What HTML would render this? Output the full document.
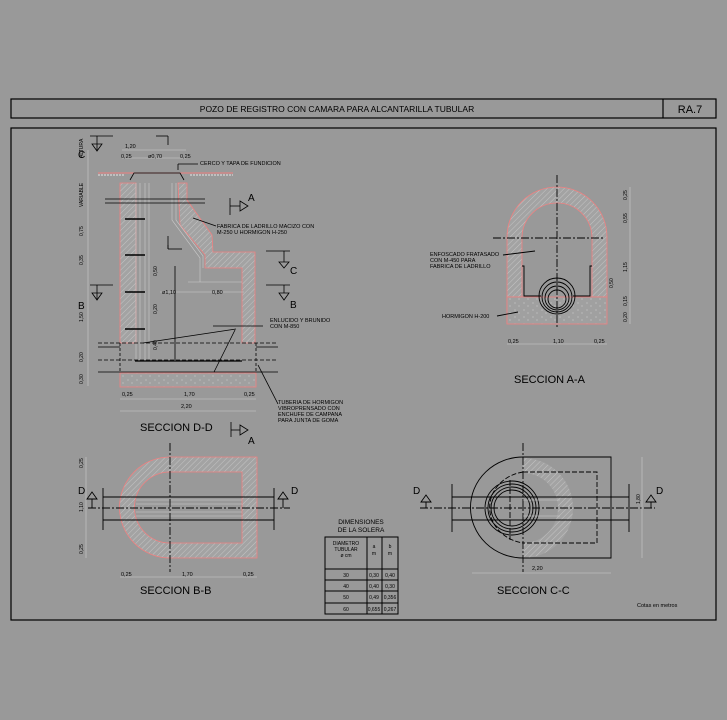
<!DOCTYPE html>
<html><head><meta charset="utf-8"><style>
html,body{margin:0;padding:0;background:#999999;}
svg{display:block}
text{font-family:"Liberation Sans",sans-serif;fill:#000}
</style></head><body>
<svg width="727" height="720" viewBox="0 0 727 720" xmlns="http://www.w3.org/2000/svg">
<defs>
<pattern id="h" width="4" height="4" patternUnits="userSpaceOnUse" patternTransform="rotate(45)">
<rect width="4" height="4" fill="#a3a3a3"/><line x1="0" y1="0" x2="0" y2="4" stroke="#c4c4c4" stroke-width="1"/>
</pattern>
<pattern id="c" width="9" height="7" patternUnits="userSpaceOnUse">
<rect width="9" height="7" fill="#a0a0a0"/><circle cx="2" cy="2" r="0.6" fill="#ccc"/><circle cx="6" cy="5" r="0.6" fill="#ccc"/>
</pattern>
</defs>
<rect width="727" height="720" fill="#999"/>
<!-- title -->
<rect x="11" y="99" width="705" height="19" fill="none" stroke="#000" stroke-width="1.2"/>
<line x1="663" y1="99" x2="663" y2="118" stroke="#000" stroke-width="1.2"/>
<text x="337" y="112" font-size="8.5" text-anchor="middle">POZO DE REGISTRO CON CAMARA PARA ALCANTARILLA TUBULAR</text>
<text x="690" y="113" font-size="11" text-anchor="middle">RA.7</text>
<rect x="11" y="128" width="705" height="492" fill="none" stroke="#000" stroke-width="1.2"/>

<!-- SECCION D-D -->
<g stroke="#000" stroke-width="0.8" fill="none">
<line x1="90" y1="136" x2="113" y2="136"/><path d="M92 144 L102 144 L97 151 Z"/><line x1="97" y1="136" x2="97" y2="151"/>
<line x1="156" y1="136" x2="168" y2="136"/><line x1="168" y1="136" x2="168" y2="145"/>
<line x1="90" y1="285" x2="113" y2="285"/><path d="M92 293 L102 293 L97 300 Z"/><line x1="97" y1="285" x2="97" y2="300"/>
<line x1="230" y1="198" x2="230" y2="215"/><line x1="230" y1="206" x2="240" y2="206"/><path d="M240 201 L248 206 L240 211 Z"/>
<line x1="266" y1="251" x2="290" y2="251"/><line x1="284" y1="251" x2="284" y2="262"/><path d="M279 262 L289 262 L284 268 Z"/>
<line x1="266" y1="285" x2="290" y2="285"/><line x1="284" y1="285" x2="284" y2="293"/><path d="M279 293 L289 293 L284 300 Z"/>
<line x1="231" y1="422" x2="231" y2="437"/><line x1="231" y1="430" x2="240" y2="430"/><path d="M240 425 L248 430 L240 435 Z"/>
<line x1="168" y1="245" x2="168" y2="249"/><line x1="168" y1="249" x2="182" y2="249"/><line x1="168" y1="236" x2="168" y2="249"/>
</g>
<!-- walls -->
<path d="M120 183 L136 183 L136 343 L120 343 Z" fill="url(#h)" stroke="#f08080" stroke-width="0.8"/>
<path d="M178 183 L187 183 L187 200 L212 235 L213 252 L255 252 L255 343 L242 343 L242 268 L205 268 L205 255 L180 225 Z" fill="url(#h)" stroke="#f08080" stroke-width="0.8"/>
<g stroke="#ccc" stroke-width="0.6" fill="none">
<line x1="136" y1="183" x2="136" y2="360"/><line x1="140" y1="183" x2="140" y2="360"/><line x1="145" y1="183" x2="145" y2="360"/><line x1="149" y1="183" x2="149" y2="360"/>
<path d="M172 183 L172 220 L200 258 L200 282"/><path d="M176 183 L176 220 L203 256 L203 268"/>
<line x1="188" y1="282" x2="242" y2="282"/>
</g>
<path d="M98 173 L233 173" stroke="#f08080" stroke-width="1"/>
<path d="M98 175 L125 175 M190 175 L233 175" stroke="#ccc" stroke-width="1.5" stroke-dasharray="2 1"/>
<path d="M130 180 L134 173 L180 173 L184 180" stroke="#000" fill="none" stroke-width="0.8"/>
<rect x="120" y="373" width="136" height="14" fill="url(#c)" stroke="#f08080" stroke-width="0.8"/>
<g stroke="#000" stroke-width="0.8" fill="none">
<line x1="98" y1="343" x2="278" y2="343" stroke-dasharray="4 2"/>
<line x1="98" y1="347" x2="120" y2="347"/><line x1="256" y1="347" x2="278" y2="347"/>
<line x1="98" y1="360" x2="278" y2="360" stroke-dasharray="4 2"/>
<line x1="98" y1="372" x2="278" y2="372"/>
<line x1="135" y1="361" x2="242" y2="361" stroke-width="1.2"/>
<line x1="105" y1="199" x2="205" y2="199"/><line x1="105" y1="203" x2="205" y2="203"/>
<line x1="120" y1="343" x2="120" y2="373" stroke-dasharray="3 2"/><line x1="256" y1="343" x2="256" y2="373" stroke-dasharray="3 2"/>
<line x1="175" y1="266" x2="175" y2="360"/>
<line x1="216" y1="226" x2="193" y2="218"/><line x1="213" y1="326" x2="263" y2="326"/>
<line x1="143" y1="343" x2="236" y2="329"/><line x1="214" y1="372" x2="235" y2="330"/>
<line x1="258" y1="365" x2="278" y2="404"/>
<line x1="178" y1="164" x2="198" y2="164"/><line x1="178" y1="164" x2="178" y2="170"/>
</g>
<g stroke="#000" stroke-width="1.4"><line x1="125" y1="219" x2="145" y2="219"/><line x1="125" y1="255" x2="145" y2="255"/><line x1="125" y1="292" x2="145" y2="292"/><line x1="125" y1="329" x2="145" y2="329"/></g>
<g stroke="#ccc" stroke-width="0.6" fill="none">
<line x1="88" y1="150" x2="88" y2="386"/><line x1="122" y1="158" x2="186" y2="158"/><line x1="122" y1="150" x2="186" y2="150"/>
<line x1="120" y1="399" x2="256" y2="399"/><line x1="120" y1="411" x2="256" y2="411"/><line x1="160" y1="292" x2="244" y2="292"/>
</g>
<g font-size="5.5">
<text x="125" y="148">1,20</text><text x="121" y="158">0,25</text><text x="148" y="158">ø0,70</text><text x="180" y="158">0,25</text>
<text x="200" y="165">CERCO Y TAPA DE FUNDICION</text>
<text x="217" y="228">FABRICA DE LADRILLO MACIZO CON</text><text x="217" y="234">M-250 U HORMIGON H-250</text>
<text x="270" y="322">ENLUCIDO Y BRUNIDO</text><text x="270" y="328">CON M-850</text>
<text x="162" y="294">ø1,10</text><text x="212" y="294">0,80</text>
<text x="122" y="396">0,25</text><text x="184" y="396">1,70</text><text x="244" y="396">0,25</text><text x="181" y="408">2,20</text>
<text x="278" y="404">TUBERIA DE HORMIGON</text><text x="278" y="410">VIBROPRENSADO CON</text><text x="278" y="416">ENCHUFE DE CAMPANA</text><text x="278" y="422">PARA JUNTA DE GOMA</text>
</g>
<g font-size="5" transform="rotate(-90)">
<text x="-158" y="83">ALTURA</text><text x="-207" y="83">VARIABLE</text><text x="-236" y="83">0,75</text><text x="-265" y="83">0,35</text><text x="-322" y="83">1,50</text><text x="-362" y="83">0,20</text><text x="-384" y="83">0,30</text>
<text x="-276" y="157">0,50</text><text x="-314" y="157">0,20</text><text x="-350" y="157">0,40</text>
</g>
<g font-size="10"><text x="78" y="158">C</text><text x="78" y="309">B</text><text x="248" y="201">A</text><text x="290" y="274">C</text><text x="290" y="308">B</text><text x="248" y="444">A</text></g>
<text x="140" y="431" font-size="11">SECCION D-D</text>

<!-- SECCION A-A -->
<path d="M507 324 L507 237 A50 50 0 0 1 607 237 L607 297 L592 297 L592 238 A35 35 0 0 0 522 238 L522 297 L507 297" fill="url(#h)" stroke="#f08080" stroke-width="0.8"/>
<rect x="507" y="297" width="100" height="27" fill="url(#c)" stroke="#f08080" stroke-width="0.8"/>
<g stroke="#000" stroke-width="0.9" fill="none">
<path d="M522 266 L524 266 L524 296 L541 296 M573 296 L590 296 L590 266 L592 266"/>
<circle cx="557" cy="296" r="18"/><circle cx="557" cy="297" r="15"/><circle cx="557" cy="298" r="12"/><circle cx="557" cy="299" r="9"/>
<line x1="557" y1="175" x2="557" y2="328" stroke-dasharray="8 2 2 2"/>
<line x1="493" y1="238" x2="605" y2="238" stroke-dasharray="8 2 2 2"/>
<line x1="503" y1="255" x2="535" y2="251"/><line x1="497" y1="316" x2="518" y2="312"/>
</g>
<g stroke="#ccc" stroke-width="0.6" fill="none"><line x1="630" y1="187" x2="630" y2="324"/><line x1="507" y1="344" x2="607" y2="344"/></g>
<g font-size="5.5"><text x="430" y="256">ENFOSCADO FRATASADO</text><text x="430" y="262">CON M-450 PARA</text><text x="430" y="268">FABRICA DE LADRILLO</text><text x="442" y="318">HORMIGON H-200</text>
<text x="508" y="343">0,25</text><text x="553" y="343">1,10</text><text x="594" y="343">0,25</text></g>
<g font-size="5" transform="rotate(-90)"><text x="-200" y="627">0,25</text><text x="-223" y="627">0,55</text><text x="-272" y="627">1,15</text><text x="-288" y="613">0,50</text><text x="-306" y="627">0,15</text><text x="-322" y="627">0,20</text></g>
<text x="514" y="383" font-size="11">SECCION A-A</text>

<!-- SECCION B-B -->
<path d="M170 457 L257 457 L257 558 L170 558 A50 50 0 0 1 170 457 Z M170 472 A35 35 0 0 0 170 543 L242 543 L242 472 Z" fill="url(#h)" fill-rule="evenodd" stroke="#f08080" stroke-width="0.8"/>
<g stroke="#ccc" stroke-width="0.6"><line x1="136" y1="500" x2="242" y2="500"/><line x1="136" y1="504" x2="242" y2="504"/><line x1="136" y1="512" x2="242" y2="512"/><line x1="136" y1="516" x2="242" y2="516"/>
<line x1="86" y1="457" x2="86" y2="558"/><line x1="120" y1="577" x2="257" y2="577"/></g>
<g stroke="#000" stroke-width="0.9" fill="none">
<line x1="103" y1="497" x2="274" y2="497"/><line x1="103" y1="520" x2="274" y2="520"/>
<line x1="103" y1="488" x2="103" y2="530"/><line x1="274" y1="488" x2="274" y2="530"/>
<line x1="88" y1="508" x2="290" y2="508" stroke-dasharray="8 2 2 2"/>
<line x1="170" y1="443" x2="170" y2="572" stroke-dasharray="8 2 2 2"/>
<path d="M87 499 L97 499 L92 492 Z M92 499 L92 508"/><path d="M278 499 L288 499 L283 492 Z M283 499 L283 508"/>
</g>
<g font-size="10"><text x="78" y="494">D</text><text x="291" y="494">D</text></g>
<g font-size="5" transform="rotate(-90)"><text x="-468" y="83">0,25</text><text x="-512" y="83">1,10</text><text x="-554" y="83">0,25</text></g>
<g font-size="5.5"><text x="121" y="576">0,25</text><text x="182" y="576">1,70</text><text x="243" y="576">0,25</text></g>
<text x="140" y="594" font-size="11">SECCION B-B</text>

<!-- table -->
<g font-size="6.5" text-anchor="middle"><text x="361" y="524">DIMENSIONES</text><text x="361" y="532">DE LA SOLERA</text></g>
<g stroke="#000" stroke-width="1" fill="none">
<rect x="325" y="537" width="73" height="77"/>
<line x1="367" y1="537" x2="367" y2="614"/><line x1="382" y1="537" x2="382" y2="614"/>
<line x1="325" y1="569" x2="398" y2="569"/><line x1="325" y1="580" x2="398" y2="580"/><line x1="325" y1="591" x2="398" y2="591"/><line x1="325" y1="603" x2="398" y2="603"/>
</g>
<g font-size="5" text-anchor="middle">
<text x="346" y="545">DIAMETRO</text><text x="346" y="551">TUBULAR</text><text x="346" y="557">ø cm</text>
<text x="374" y="548">a</text><text x="374" y="555">m</text><text x="390" y="548">b</text><text x="390" y="555">m</text>
<text x="346" y="577">30</text><text x="374" y="577">0,30</text><text x="390" y="577">0,40</text>
<text x="346" y="588">40</text><text x="374" y="588">0,40</text><text x="390" y="588">0,30</text>
<text x="346" y="599">50</text><text x="374" y="599">0,49</text><text x="390" y="599">0,356</text>
<text x="346" y="611">60</text><text x="374" y="611">0,655</text><text x="390" y="611">0,267</text>
</g>

<!-- SECCION C-C -->
<path d="M523 458 A50 50 0 0 1 523 558 L523 543 A35 35 0 0 0 523 473 Z" fill="url(#h)" stroke="none"/>
<g stroke="#000" stroke-width="0.9" fill="none">
<path d="M523 457 L611 457 L611 558 L523 558"/>
<path d="M523 457 A52 50 0 0 0 523 558" />
<path d="M523 472 L597 472 L597 543 L523 543" stroke-dasharray="5 2"/>
<path d="M523 472 A40 36 0 0 0 523 543" stroke-dasharray="5 2"/>
<circle cx="512" cy="508" r="21"/><circle cx="512" cy="508" r="24"/><circle cx="512" cy="508" r="27"/><circle cx="512" cy="508" r="18"/>
<line x1="452" y1="497" x2="629" y2="497"/><line x1="452" y1="520" x2="629" y2="520"/>
<line x1="452" y1="484" x2="452" y2="532"/><line x1="629" y1="484" x2="629" y2="532"/>
<line x1="420" y1="508" x2="655" y2="508" stroke-dasharray="8 2 2 2"/>
<line x1="523" y1="443" x2="523" y2="572" stroke-dasharray="8 2 2 2"/>
<line x1="510" y1="480" x2="510" y2="540" stroke-dasharray="6 2"/>
<path d="M421 502 L431 502 L426 495 Z M426 502 L426 508"/><path d="M646 502 L656 502 L651 495 Z M651 502 L651 508"/>
</g>
<g stroke="#ccc" stroke-width="0.6"><line x1="472" y1="573" x2="611" y2="573"/><line x1="642" y1="457" x2="642" y2="558"/><line x1="523" y1="500" x2="560" y2="500"/><line x1="523" y1="516" x2="560" y2="516"/></g>
<g font-size="10"><text x="413" y="494">D</text><text x="656" y="494">D</text></g>
<text x="532" y="570" font-size="5.5">2,20</text>
<text x="640" y="504" font-size="5" transform="rotate(-90 640 504)">1,80</text>
<text x="497" y="594" font-size="11">SECCION C-C</text>
<text x="637" y="607" font-size="5.5">Cotas en metros</text>
</svg>
</body></html>
